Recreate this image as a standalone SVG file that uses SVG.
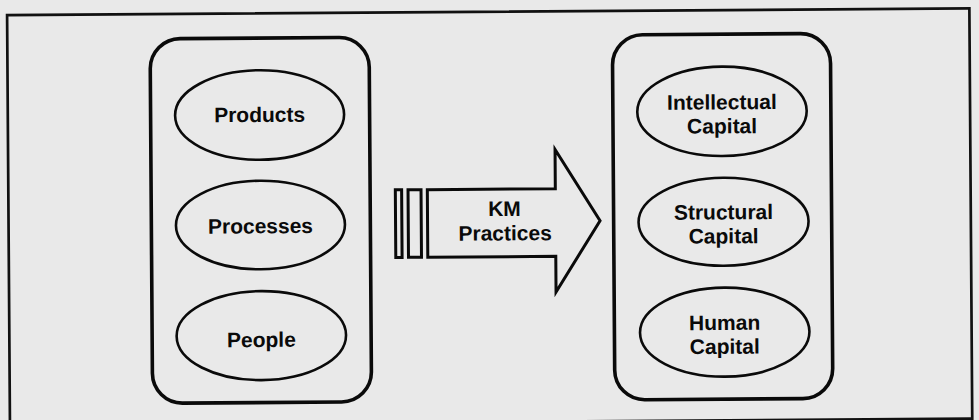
<svg xmlns="http://www.w3.org/2000/svg" width="979" height="420" viewBox="0 0 979 420">
  <style>
    .frame { fill: none; stroke: #111; stroke-width: 2.7; }
    .box { fill: none; stroke: #0a0a0a; stroke-width: 3.6; }
    .oval { fill: none; stroke: #0a0a0a; stroke-width: 2.6; }
    .arrow { fill: none; stroke: #0a0a0a; stroke-width: 3; stroke-linejoin: miter; }
    .lbl { font-family: "Liberation Sans", Arial, sans-serif; font-weight: bold; font-size: 21px; fill: #0a0a0a; text-anchor: middle; }
  </style>

  <rect width="979" height="420" fill="#e9e9e9"/>

  <!-- whole figure sits a hair off-axis -->
  <g transform="rotate(-0.4 489 215)">
    <rect class="frame" x="8.5" y="11.7" width="962.3" height="410.3"/>

    <!-- left column: sources -->
    <g id="sources">
      <rect class="box" x="151.3" y="36.5" width="219" height="364.5" rx="30" ry="30"/>
    </g>
    <g id="products">
      <ellipse class="oval" cx="260.3" cy="113.4" rx="84.5" ry="44.8"/>
      <text class="lbl" x="260.3" y="120.3">Products</text>
    </g>
    <g id="processes">
      <ellipse class="oval" cx="260.4" cy="223.4" rx="84.5" ry="44.3"/>
      <text class="lbl" x="260.4" y="231.7">Processes</text>
    </g>
    <g id="people">
      <ellipse class="oval" cx="260.5" cy="334" rx="84.7" ry="44.5"/>
      <text class="lbl" x="260.5" y="345.4">People</text>
    </g>

    <!-- right column: capital -->
    <g id="capital">
      <rect class="box" x="613.6" y="35.8" width="218" height="365" rx="30" ry="30"/>
    </g>
    <g id="intellectual-capital">
      <ellipse class="oval" cx="722.7" cy="113" rx="84.7" ry="44.7"/>
      <text class="lbl" x="722.7" y="111">Intellectual</text>
      <text class="lbl" x="722.7" y="135">Capital</text>
    </g>
    <g id="structural-capital">
      <ellipse class="oval" cx="723.5" cy="223.4" rx="85" ry="44"/>
      <text class="lbl" x="723.5" y="221">Structural</text>
      <text class="lbl" x="723.5" y="245">Capital</text>
    </g>
    <g id="human-capital">
      <ellipse class="oval" cx="723.9" cy="333.8" rx="84.7" ry="44.5"/>
      <text class="lbl" x="723.9" y="331.6">Human</text>
      <text class="lbl" x="723.9" y="355.4">Capital</text>
    </g>

    <!-- block arrow linking the two columns -->
    <g id="connectors">
      <rect class="arrow" x="395.5" y="189.2" width="6.3" height="67.6"/>
      <rect class="arrow" x="408.2" y="189.2" width="13" height="67.6"/>
      <path class="arrow" d="M427.5,189.2 H555.5 V150 L600,221.5 L555.5,292.5 V256.8 H427.5 Z"/>
      <text class="lbl" x="504.5" y="216">KM</text>
      <text class="lbl" x="505" y="240.5">Practices</text>
    </g>
  </g>
</svg>
